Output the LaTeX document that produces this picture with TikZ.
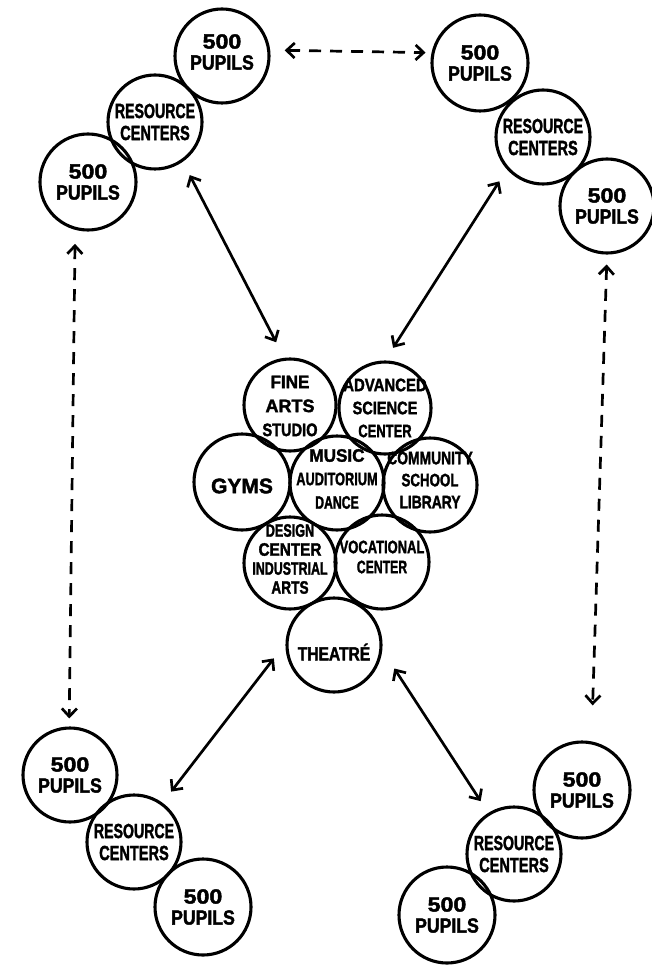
\documentclass[tikz,border=0pt]{standalone}
\usepackage{fontspec}
\newfontfamily\hand[BoldFeatures={FakeBold=2}]{Liberation Sans}
\usetikzlibrary{arrows.meta}
% horizontal squeeze/stretch of one lettered line
\newcommand\sq[2]{\scalebox{#1}[1]{#2}}
\tikzset{
  ball/.style={circle, draw, line width=3.1pt, inner sep=0pt, minimum size=#1},
  ball/.default=94pt,
  words/.style={inner sep=0pt, align=center},
  big/.style={words, font=\hand\bfseries\fontsize{20.5}{21}\selectfont},
  mid/.style={words, font=\hand\bfseries\fontsize{18}{#1}\selectfont},
  link/.style={line width=2.7pt, {Straight Barb[length=8pt,width=15pt]}-{Straight Barb[length=8pt,width=15pt]}},
  dlink/.style={link, dash pattern=on 12pt off 9pt},
}
\newcommand\pupils{\sq{1.13}{500}\\\sq{0.86}{PUPILS}}
\newcommand\resource{\sq{0.69}{RESOURCE}\\[1pt]\sq{0.71}{CENTERS}}
\begin{document}
\begin{tikzpicture}[x=1pt,y=-1pt]
\useasboundingbox (0,0) rectangle (652,965);
% ---- outer clusters
\node[ball] (tlA) at (222,56) {};
\node[ball] (tlR) at (155,122) {};
\node[ball=96pt] (tlB) at (88,182) {};
\node[ball=96pt] (trA) at (480,63) {};
\node[ball] (trR) at (543,137) {};
\node[ball] (trB) at (607,206) {};
\node[ball] (blA) at (70,775) {};
\node[ball] (blR) at (134,842) {};
\node[ball=96pt] (blB) at (203,907) {};
\node[ball=96pt] (brA) at (582,790) {};
\node[ball] (brR) at (514,854) {};
\node[ball=96pt] (brB) at (447,915) {};

\node[big] (tlAt) at ([yshift=4pt]tlA) {\pupils};
\node[big] (tlRt) at (tlR) {\resource};
\node[big] (tlBt) at (tlB) {\pupils};
\node[big] (trAt) at (trA) {\pupils};
\node[big] (trRt) at (trR) {\resource};
\node[big] (trBt) at (trB) {\pupils};
\node[big] (blAt) at (blA) {\pupils};
\node[big] (blRt) at (blR) {\resource};
\node[big] (blBt) at (blB) {\pupils};
\node[big] (brAt) at (brA) {\pupils};
\node[big] (brRt) at (brR) {\resource};
\node[big] (brBt) at (brB) {\pupils};

% ---- central core
\node[ball=92pt] (fa) at (290,405) {};
\node[ball=92pt] (as) at (385,408) {};
\node[ball=96pt] (gy) at (242,482) {};
\node[ball] (mu) at (337,483) {};
\node[ball] (co) at (430,485) {};
\node[ball=92pt] (de) at (290,563) {};
\node[ball] (vo) at (382,562) {};
\node[ball] (th) at (334,645) {};

\node[mid=24] (fat) at ([yshift=-1pt]fa) {\sq{0.95}{FINE}\\\sq{1.0}{ARTS}\\\sq{0.81}{STUDIO}};
\node[mid=23] (ast) at (as) {\sq{0.83}{ADVANCED}\\\sq{0.81}{SCIENCE}\\\sq{0.72}{CENTER}};
\node[words, font=\hand\bfseries\fontsize{21}{22}\selectfont] (gyt) at ([yshift=-4pt]gy) {GYMS};
\node[mid=23.5] (mut) at ([yshift=4pt]mu) {\sq{0.95}{MUSIC}\\\sq{0.71}{AUDITORIUM}\\\sq{0.68}{DANCE}};
\node[mid=22] (cot) at ([yshift=5pt]co) {\sq{0.77}{COMMUNITY}\\\sq{0.74}{SCHOOL}\\\sq{0.77}{LIBRARY}};
\node[mid=19] (det) at ([yshift=4pt]de) {\sq{0.7}{DESIGN}\\\sq{0.85}{CENTER}\\\sq{0.69}{INDUSTRIAL}\\\sq{0.76}{ARTS}};
\node[mid=20] (vot) at ([yshift=5pt]vo) {\sq{0.72}{VOCATIONAL}\\\sq{0.68}{CENTER}};
\node[words, font=\hand\bfseries\fontsize{19}{20}\selectfont] (tht) at ([yshift=-7pt]th) {\sq{0.82}{THEATRÉ}};

% ---- links between clusters and the core
\draw[link, shorten <=15pt, shorten >=17.5pt] (tlR.-55) -- (fa.97);
\draw[link, shorten <=14pt, shorten >=15pt] (trR.222) -- (as.90);
\draw[link, shorten <=19pt, shorten >=14pt] (th.178) -- (blR.54);
\draw[link, shorten <=22pt, shorten >=14pt] (th.-6) -- (brR.122);

% ---- links between neighbouring clusters
\draw[dlink, shorten <=14.5pt, shorten >=6pt] (tlA.7.6) -- (trA.168);
\draw[dlink, shorten <=14pt, shorten >=8pt] (tlB.-105) -- (blA.91);
\draw[dlink, shorten <=10pt, shorten >=36pt] (trB.-90) -- (brA.79);
\end{tikzpicture}
\end{document}
